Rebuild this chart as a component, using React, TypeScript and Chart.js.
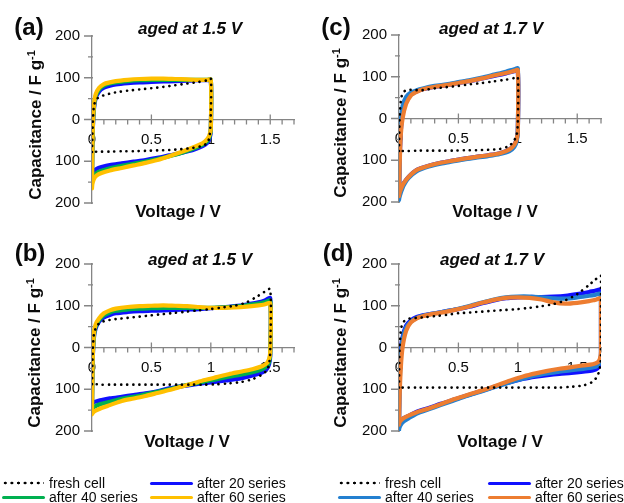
import React, { useEffect, useRef } from 'react';
import { Chart, registerables } from 'chart.js';

Chart.register(...registerables);

// ---------- data ----------
// Voltage paths (charge branch 0 -> Vmax, then discharge branch Vmax -> 0)
const V_10 = [0, 0.005, 0.015, 0.03, 0.06, 0.1, 0.15, 0.2, 0.3, 0.4, 0.5, 0.6, 0.7, 0.8, 0.9, 0.97, 1.0,
  1.0, 0.99, 0.97, 0.93, 0.85, 0.75, 0.65, 0.55, 0.45, 0.35, 0.25, 0.15, 0.08, 0.04, 0.015, 0.003, 0];
const V_15 = [0, 0.005, 0.015, 0.03, 0.06, 0.1, 0.15, 0.2, 0.3, 0.4, 0.5, 0.6, 0.7, 0.8, 0.9, 1.0, 1.1, 1.2, 1.3, 1.4, 1.45, 1.5,
  1.5, 1.49, 1.47, 1.43, 1.35, 1.25, 1.15, 1.05, 0.95, 0.85, 0.75, 0.65, 0.55, 0.45, 0.35, 0.25, 0.15, 0.08, 0.04, 0.015, 0.003, 0];
const V_17 = [0, 0.005, 0.015, 0.03, 0.06, 0.1, 0.15, 0.2, 0.3, 0.4, 0.5, 0.6, 0.7, 0.8, 0.9, 1.0, 1.1, 1.2, 1.3, 1.4, 1.5, 1.6, 1.65, 1.7,
  1.7, 1.69, 1.67, 1.63, 1.55, 1.45, 1.35, 1.25, 1.15, 1.05, 0.95, 0.85, 0.75, 0.65, 0.55, 0.45, 0.35, 0.25, 0.15, 0.08, 0.04, 0.015, 0.003, 0];

// (a) aged at 1.5 V, cycled to 1.0 V
const A_FRESH = [-78, -20, 30, 45, 54, 58, 62, 65, 69, 72, 75, 78, 82, 86, 90, 94, 98,
  20, -40, -56, -63, -68, -71, -73, -74, -75, -76, -76, -77, -77, -77, -78, -78, -78];
const A_20 = [-133, -40, 20, 50, 67, 76, 81, 84, 87, 89, 90, 91, 92, 93, 94, 94, 94,
  -25, -45, -56, -64, -73, -80, -86, -92, -97, -101, -105, -109, -114, -118, -124, -130, -133];
const A_40 = [-150, -40, 25, 55, 72, 81, 86, 89, 92, 94, 95, 95, 95, 95, 95, 95, 95,
  -22, -40, -52, -60, -70, -80, -88, -95, -101, -106, -111, -117, -123, -128, -136, -145, -150];
const A_60 = [-165, -40, 30, 60, 76, 85, 89, 92, 95, 97, 98, 98, 97, 96, 95, 95, 95,
  -20, -36, -47, -57, -67, -78, -88, -97, -104, -110, -116, -122, -128, -134, -143, -155, -165];

// (c) aged at 1.7 V, cycled to 1.0 V
const C_FRESH = [-78, 0, 42, 60, 68, 69, 68, 68, 72, 75, 78, 82, 85, 89, 93, 97, 99,
  -10, -40, -52, -65, -73, -75, -76, -76, -77, -77, -77, -77, -78, -78, -78, -78, -78];
const C_20 = [-185, -110, -30, 10, 42, 58, 65, 70, 76, 80, 85, 90, 96, 102, 108, 113, 115,
  -30, -50, -63, -74, -83, -88, -92, -96, -101, -106, -113, -123, -140, -155, -170, -180, -185];
const C_40 = [-195, -100, -10, 30, 52, 62, 68, 72, 78, 82, 87, 92, 98, 105, 112, 118, 120,
  -30, -55, -68, -78, -85, -90, -94, -98, -103, -108, -115, -126, -143, -160, -178, -190, -195];
const C_60 = [-186, -120, -40, 0, 35, 55, 64, 70, 76, 80, 85, 90, 96, 103, 109, 114, 116,
  -30, -50, -63, -74, -83, -88, -92, -96, -101, -106, -113, -123, -140, -155, -170, -180, -186];

// (b) aged at 1.5 V, cycled to 1.5 V
const B_FRESH = [-88, -20, 30, 45, 58, 63, 66, 68, 71, 74, 77, 80, 83, 86, 89, 92, 96, 100, 108, 124, 133, 140,
  -10, -40, -55, -65, -76, -83, -86, -88, -89, -89, -89, -89, -89, -89, -89, -89, -89, -89, -88, -88, -88, -88];
const B_20 = [-135, -40, 20, 45, 62, 72, 78, 82, 85, 87, 88, 89, 90, 91, 92, 94, 96, 99, 103, 108, 112, 118,
  -20, -40, -52, -60, -67, -74, -78, -82, -85, -89, -93, -98, -105, -110, -114, -118, -122, -126, -129, -131, -133, -135];
const B_40 = [-150, -40, 25, 50, 66, 77, 84, 88, 91, 93, 94, 95, 95, 95, 95, 95, 96, 98, 101, 105, 108, 112,
  -15, -35, -45, -52, -59, -65, -70, -76, -81, -87, -93, -100, -106, -112, -118, -123, -130, -135, -139, -143, -147, -150];
const B_60 = [-160, -40, 30, 55, 70, 82, 89, 93, 97, 99, 100, 101, 100, 99, 97, 95, 95, 96, 98, 101, 103, 106,
  -10, -28, -38, -45, -52, -58, -64, -71, -78, -86, -94, -102, -109, -116, -122, -128, -138, -145, -150, -154, -158, -160];

// (d) aged at 1.7 V, cycled to 1.7 V
const D_FRESH = [-96, 0, 40, 58, 67, 70, 71, 72, 75, 78, 82, 84, 86, 88, 90, 92, 95, 99, 104, 113, 128, 150, 162, 172,
  -20, -50, -68, -82, -91, -94, -96, -96, -96, -96, -96, -96, -96, -96, -96, -96, -96, -96, -96, -96, -96, -96, -96, -96];
const D_20 = [-180, -80, -10, 25, 52, 65, 73, 77, 82, 87, 92, 98, 106, 113, 118, 120, 121, 121, 122, 124, 128, 133, 136, 138,
  -20, -40, -50, -55, -58, -61, -63, -66, -70, -75, -82, -90, -99, -108, -117, -126, -135, -145, -154, -164, -169, -174, -177, -180];
const D_40 = [-198, -100, -20, 20, 48, 62, 71, 76, 82, 87, 93, 100, 108, 115, 120, 122, 122, 120, 118, 117, 120, 124, 126, 128,
  -15, -35, -44, -48, -51, -54, -58, -62, -67, -74, -82, -91, -100, -109, -118, -128, -138, -148, -158, -170, -177, -185, -193, -198];
const D_60 = [-185, -120, -50, 0, 40, 60, 70, 75, 81, 86, 92, 99, 107, 114, 119, 120, 119, 115, 108, 105, 107, 111, 114, 117,
  -10, -28, -36, -40, -43, -47, -51, -56, -62, -69, -78, -88, -98, -107, -116, -125, -136, -146, -155, -163, -169, -175, -180, -185];

const SERIES_NAMES = ['fresh cell', 'after 20 series', 'after 40 series', 'after 60 series'];
const X_TICKS = [0, 0.5, 1, 1.5];
const X_MINOR = [0.1, 0.2, 0.3, 0.4, 0.6, 0.7, 0.8, 0.9, 1.1, 1.2, 1.3, 1.4, 1.6, 1.7];
const Y_TICKS = [-200, -100, 0, 100, 200];
const Y_MINOR = [-150, -50, 50, 150];
const PANEL_LABELS = ['(a)', '(b)', '(c)', '(d)'];
const PANEL_TITLES = ['aged at 1.5 V', 'aged at 1.5 V', 'aged at 1.7 V', 'aged at 1.7 V'];

// ---------- styles ----------
const FONT = '"Liberation Sans", Arial, sans-serif';
const AXIS_COLOR = '#858585';
const TEXT_COLOR = '#0a0a0a';
const COLORS_LEFT = ['#000000', '#1010ff', '#00b050', '#ffc000'];
const COLORS_RIGHT = ['#000000', '#1010ff', '#2380d0', '#ed7d31'];

const PLOT_W = 202;
const PLOT_H = 167;

type PanelDef = {
  v: number[];
  ys: number[][];
  colors: string[];
  left: number;
  top: number;
  label: string;
  title: string;
  labelPos: [number, number];
  titlePos: [number, number];
  xTitlePos: [number, number];
  yTitlePos: [number, number];
};

const PANELS: PanelDef[] = [
  { v: V_10, ys: [A_FRESH, A_20, A_40, A_60], colors: COLORS_LEFT, left: 92, top: 36,
    label: PANEL_LABELS[0], title: PANEL_TITLES[0],
    labelPos: [29, 27], titlePos: [190, 28], xTitlePos: [178, 211], yTitlePos: [35, 125] },
  { v: V_15, ys: [B_FRESH, B_20, B_40, B_60], colors: COLORS_LEFT, left: 92, top: 264,
    label: PANEL_LABELS[1], title: PANEL_TITLES[1],
    labelPos: [30, 253], titlePos: [200, 259], xTitlePos: [187, 441], yTitlePos: [34, 353] },
  { v: V_10, ys: [C_FRESH, C_20, C_40, C_60], colors: COLORS_RIGHT, left: 399, top: 35,
    label: PANEL_LABELS[2], title: PANEL_TITLES[2],
    labelPos: [336, 27], titlePos: [491, 28], xTitlePos: [495, 211], yTitlePos: [340, 123] },
  { v: V_17, ys: [D_FRESH, D_20, D_40, D_60], colors: COLORS_RIGHT, left: 399, top: 264,
    label: PANEL_LABELS[3], title: PANEL_TITLES[3],
    labelPos: [338, 253], titlePos: [492, 259], xTitlePos: [500, 441], yTitlePos: [340, 353] },
];

const PAD_L = 52;
const PAD_T = 12;
const PAD_R = 10;
const PAD_B = 10;

const minorTicksPlugin = {
  id: 'minorTicks',
  beforeDatasetsDraw(chart: any) {
    const { ctx, scales } = chart;
    const xs = scales.x;
    const ys = scales.y;
    const axisX = chart.chartArea.left;
    const y0 = ys.getPixelForValue(0);
    ctx.save();
    ctx.strokeStyle = AXIS_COLOR;
    ctx.lineWidth = 1.3;
    ctx.beginPath();
    Y_TICKS.forEach((v) => {
      const p = ys.getPixelForValue(v);
      ctx.moveTo(axisX - 8, p);
      ctx.lineTo(axisX + 1, p);
    });
    Y_MINOR.forEach((v) => {
      const p = ys.getPixelForValue(v);
      ctx.moveTo(axisX - 4, p);
      ctx.lineTo(axisX + 1, p);
    });
    X_TICKS.forEach((v) => {
      if (v === 0) return;
      const p = xs.getPixelForValue(v);
      ctx.moveTo(p, y0 - 5);
      ctx.lineTo(p, y0 + 5);
    });
    X_MINOR.forEach((v) => {
      const p = xs.getPixelForValue(v);
      ctx.moveTo(p, y0);
      ctx.lineTo(p, y0 + 5);
    });
    ctx.stroke();
    ctx.restore();
  },
};

function buildConfig(p: PanelDef): any {
  const datasets = p.ys.map((ys, i) => {
    const fresh = i === 0;
    return {
      label: SERIES_NAMES[i],
      data: p.v.map((x, k) => ({ x, y: ys[k] })),
      showLine: true,
      borderColor: p.colors[i],
      backgroundColor: p.colors[i],
      borderWidth: fresh ? 2.6 : 4.2,
      borderDash: fresh ? [0.1, 6] : [],
      borderCapStyle: 'round',
      borderJoinStyle: 'round',
      pointRadius: 0,
      pointHoverRadius: 0,
      tension: 0.25,
      fill: false,
      order: fresh ? 0 : 4 - i,
    };
  });
  return {
    type: 'scatter',
    data: { datasets },
    plugins: [minorTicksPlugin],
    options: {
      animation: false,
      responsive: false,
      devicePixelRatio: 1,
      layout: { padding: { top: PAD_T, right: PAD_R, bottom: PAD_B, left: 0 } },
      plugins: { legend: { display: false }, tooltip: { enabled: false } },
      events: [],
      scales: {
        x: {
          type: 'linear',
          min: 0,
          max: 1.7,
          position: { y: 0 },
          afterBuildTicks: (s: any) => { s.ticks = X_TICKS.map((value) => ({ value })); },
          afterFit: (s: any) => { s.paddingLeft = 0; s.paddingRight = 0; },
          grid: { display: true, drawOnChartArea: false, drawTicks: false },
          border: { display: true, color: AXIS_COLOR, width: 1.3 },
          ticks: {
            autoSkip: false,
            maxRotation: 0,
            padding: 11,
            color: TEXT_COLOR,
            font: { family: FONT, size: 15 },
            callback: (v: any) => String(Math.round(Number(v) * 10) / 10),
          },
        },
        y: {
          type: 'linear',
          min: -200,
          max: 200,
          position: 'left',
          afterBuildTicks: (s: any) => { s.ticks = Y_TICKS.map((value) => ({ value })); },
          afterFit: (s: any) => { s.width = PAD_L; s.paddingTop = 0; s.paddingBottom = 0; },
          grid: { display: true, drawOnChartArea: false, drawTicks: false },
          border: { display: true, color: AXIS_COLOR, width: 1.3 },
          ticks: {
            autoSkip: false,
            padding: 12,
            color: TEXT_COLOR,
            font: { family: FONT, size: 15 },
            callback: (v: any) => String(Math.abs(Number(v))),
          },
        },
      },
    },
  };
}

function PanelChart({ p }: { p: PanelDef }) {
  const ref = useRef<HTMLCanvasElement | null>(null);
  const cl = p.left - PAD_L;
  const ct = p.top - PAD_T;
  const cw = PAD_L + PLOT_W + PAD_R;
  const ch = PAD_T + PLOT_H + PAD_B;
  useEffect(() => {
    const chart = new Chart(ref.current as HTMLCanvasElement, buildConfig(p));
    return () => chart.destroy();
  }, []);
  return (
    <canvas
      ref={ref}
      width={cw}
      height={ch}
      style={{ position: 'absolute', left: cl, top: ct, width: cw, height: ch }}
    />
  );
}

function Txt({ x, y, children, style, rotate }: { x: number; y: number; children: any; style?: any; rotate?: boolean }) {
  return (
    <div
      style={{
        position: 'absolute',
        left: x,
        top: y,
        transform: `translate(-50%, -50%)${rotate ? ' rotate(-90deg)' : ''}`,
        whiteSpace: 'nowrap',
        lineHeight: 1,
        fontFamily: FONT,
        color: TEXT_COLOR,
        ...style,
      }}
    >
      {children}
    </div>
  );
}

function LegendItem({ x, y, color, dotted, text }: { x: number; y: number; color: string; dotted: boolean; text: string }) {
  return (
    <>
      {dotted ? (
        <div
          style={{
            position: 'absolute', left: x, top: y - 2, width: 42, height: 4,
            backgroundImage: 'radial-gradient(circle, #000 1.1px, rgba(0,0,0,0) 1.7px)',
            backgroundSize: '6.6px 4px',
          }}
        />
      ) : (
        <div style={{ position: 'absolute', left: x, top: y - 1.5, width: 43, height: 3, background: color, borderRadius: 1.5 }} />
      )}
      <div
        style={{
          position: 'absolute', left: x + 47, top: y - 8, fontFamily: FONT, fontSize: 14,
          lineHeight: '16px', color: TEXT_COLOR, whiteSpace: 'nowrap',
        }}
      >
        {text}
      </div>
    </>
  );
}

export default function App() {
  return (
    <div style={{ position: 'fixed', left: 0, top: 0, width: 624, height: 503, background: '#fff', overflow: 'hidden' }}>
      {PANELS.map((p, i) => (
        <PanelChart key={i} p={p} />
      ))}
      {PANELS.map((p, i) => (
        <React.Fragment key={'t' + i}>
          <Txt x={p.labelPos[0]} y={p.labelPos[1]} style={{ fontSize: 24, fontWeight: 'bold' }}>{p.label}</Txt>
          <Txt x={p.titlePos[0]} y={p.titlePos[1]} style={{ fontSize: 17, fontWeight: 'bold', fontStyle: 'italic' }}>{p.title}</Txt>
          <Txt x={p.xTitlePos[0]} y={p.xTitlePos[1]} style={{ fontSize: 17, fontWeight: 'bold' }}>Voltage / V</Txt>
          <Txt x={p.yTitlePos[0]} y={p.yTitlePos[1]} rotate style={{ fontSize: 17, fontWeight: 'bold' }}>
            Capacitance / F g<span style={{ fontSize: 11, position: 'relative', top: -6 }}>-1</span>
          </Txt>
        </React.Fragment>
      ))}
      <LegendItem x={2} y={483} color={COLORS_LEFT[0]} dotted text={SERIES_NAMES[0]} />
      <LegendItem x={150} y={483} color={COLORS_LEFT[1]} dotted={false} text={SERIES_NAMES[1]} />
      <LegendItem x={2} y={497} color={COLORS_LEFT[2]} dotted={false} text={SERIES_NAMES[2]} />
      <LegendItem x={150} y={497} color={COLORS_LEFT[3]} dotted={false} text={SERIES_NAMES[3]} />
      <LegendItem x={338} y={483} color={COLORS_RIGHT[0]} dotted text={SERIES_NAMES[0]} />
      <LegendItem x={488} y={483} color={COLORS_RIGHT[1]} dotted={false} text={SERIES_NAMES[1]} />
      <LegendItem x={338} y={497} color={COLORS_RIGHT[2]} dotted={false} text={SERIES_NAMES[2]} />
      <LegendItem x={488} y={497} color={COLORS_RIGHT[3]} dotted={false} text={SERIES_NAMES[3]} />
    </div>
  );
}
